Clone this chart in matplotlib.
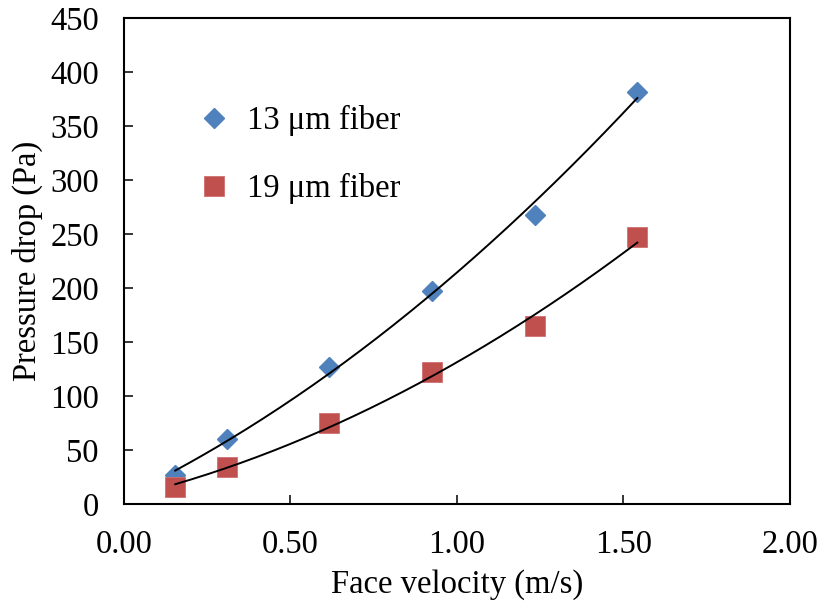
import numpy as np
import matplotlib.pyplot as plt

plt.rcParams['font.family'] = ['Liberation Serif', 'DejaVu Serif']

# face velocity (m/s) and measured pressure drop (Pa)
velocity = [0.154, 0.308, 0.617, 0.925, 1.234, 1.542]
dp_13um = [27, 60, 127, 197, 268, 382]
dp_19um = [16, 34, 75, 122, 165, 247]

fig = plt.figure(figsize=(8.21, 6.08), dpi=100)
ax = fig.add_axes([0.151, 0.171, 0.811, 0.799])

fs = 23.5
ax.plot(velocity, dp_13um, 'D', color='#4F81BD', ms=10.4, mec='#4F81BD', label='13 \u03bcm fiber', zorder=3)
ax.plot(velocity, dp_19um, 's', color='#C0504D', ms=14.6, mec='#D07070', mew=0.6, label='19 \u03bcm fiber', zorder=3)

# second order polynomial trendlines
xs = np.linspace(min(velocity), max(velocity), 200)
for dp in (dp_13um, dp_19um):
    c = np.polyfit(velocity, dp, 2)
    ax.plot(xs, np.polyval(c, xs), 'k-', lw=1.4, zorder=4)

ax.set_xlim(0, 2.0)
ax.set_ylim(0, 450)
ax.set_xticks(np.arange(0, 2.01, 0.5))
ax.set_xticklabels(['%.2f' % t for t in np.arange(0, 2.01, 0.5)])
ax.set_yticks(np.arange(0, 451, 50))
ax.tick_params(direction='in', length=6.5, width=1.1, labelsize=fs, pad=18)
for s in ax.spines.values():
    s.set_linewidth(1.5)

ax.set_xlabel('Face velocity (m/s)', fontsize=fs, labelpad=7)
ax.set_ylabel('Pressure drop (Pa)', fontsize=fs, labelpad=5)

ax.legend(loc='upper left', bbox_to_anchor=(0.067, 0.882), frameon=False, fontsize=fs,
          labelspacing=1.13, handletextpad=0.51, handlelength=1.0)

fig.savefig('out.png', dpi=100)
